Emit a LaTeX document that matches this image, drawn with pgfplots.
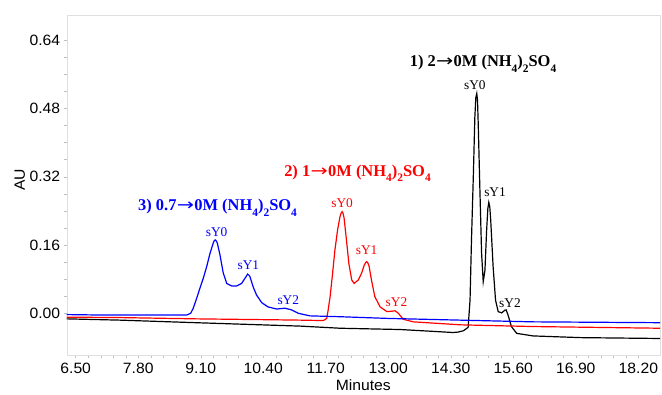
\documentclass[border=0pt]{standalone}
\usepackage{fontspec}
\setmainfont{Liberation Sans}[FakeStretch=1.05]
\newfontfamily\serif{Liberation Serif}
\newfontfamily\arrfont{DejaVu Sans}
\usepackage{pgfplots}
\pgfplotsset{compat=1.18}
\newcommand{\sub}[1]{\raisebox{-0.36em}{\fontsize{11.5}{12}\selectfont #1}}
\newcommand{\arr}{\kern0.02em\scalebox{1.25}[1.0]{\arrfont\mdseries →}\kern0.02em}
\newcommand{\ttl}{\serif\bfseries\fontsize{16.5}{18}\selectfont}
\newcommand{\pk}{\serif\fontsize{13.4}{14}\selectfont}

\begin{document}
\begin{tikzpicture}
\useasboundingbox (-66.7bp,-40bp) rectangle (595.3bp,355bp);
\begin{axis}[
  scale only axis, width=593.3bp, height=340bp,
  xmin=6.313, xmax=18.65, ymin=-0.0977, ymax=0.699,
  xtick={6.5,7.8,9.1,10.4,11.7,13,14.3,15.6,16.9,18.2},
  ytick={0,0.16,0.32,0.48,0.64},
  minor x tick num=4, minor y tick num=3,
  tick align=outside, major tick length=3bp, minor tick length=3bp,
  every tick/.style={black!25},
  axis line style={black!12},
  xtick pos=bottom, ytick pos=left,
  /pgf/number format/.cd, fixed, fixed zerofill, precision=2, assume math mode=true,
  /pgfplots/.cd,
  tick label style={font=\fontsize{15}{17}\selectfont},
  xticklabel style={yshift=-2bp},
  label style={font=\fontsize{15}{17}\selectfont},
  xlabel={Minutes}, ylabel={AU},
  xlabel style={at={(axis description cs:0.5,-0.09)}, anchor=center},
  ylabel style={at={(axis description cs:-0.079,0.515)}, anchor=center},
  every axis plot/.append style={line width=1.2bp},
  clip=true,
]
\addplot[black] table {
6.313 -0.013
7.42 -0.016
9.00 -0.022
11.17 -0.030
12.00 -0.035
13.25 -0.038
14.35 -0.045
14.45 -0.044
14.56 -0.041
14.66 -0.033
14.70 0.031
14.73 0.172
14.77 0.328
14.80 0.460
14.82 0.505
14.84 0.515
14.855 0.500
14.87 0.445
14.905 0.289
14.94 0.141
14.974 0.074
15.01 0.101
15.045 0.195
15.07 0.245
15.09 0.260
15.11 0.250
15.13 0.218
15.18 0.109
15.23 0.031
15.285 0.004
15.36 0.001
15.42 0.007
15.45 0.008
15.49 -0.004
15.56 -0.031
15.67 -0.047
16.01 -0.053
17.00 -0.057
18.65 -0.059
};
\addplot[red] table {
6.313 -0.009
7.42 -0.010
9.00 -0.013
10.50 -0.015
11.17 -0.016
11.65 -0.017
11.72 -0.012
11.75 0.008
11.79 0.039
11.835 0.086
11.89 0.148
11.945 0.195
11.995 0.226
12.02 0.235
12.04 0.238
12.06 0.234
12.08 0.224
12.13 0.172
12.18 0.117
12.24 0.078
12.29 0.070
12.375 0.078
12.445 0.094
12.50 0.113
12.53 0.119
12.55 0.121
12.57 0.119
12.60 0.111
12.65 0.078
12.72 0.039
12.83 0.015
12.97 0.004
13.08 0.005
13.14 0.006
13.21 0.000
13.31 -0.014
13.52 -0.020
14.50 -0.027
16.00 -0.031
18.65 -0.035
};
\addplot[blue] table {
6.313 -0.003
7.00 -0.004
7.42 -0.004
8.20 -0.004
8.81 -0.004
8.89 0.000
8.945 0.012
9.015 0.035
9.084 0.059
9.153 0.082
9.223 0.109
9.292 0.140
9.361 0.165
9.38 0.170
9.402 0.172
9.42 0.170
9.444 0.165
9.50 0.137
9.569 0.094
9.64 0.070
9.743 0.064
9.847 0.064
9.95 0.070
10.02 0.082
10.076 0.092
10.12 0.087
10.19 0.062
10.26 0.043
10.367 0.025
10.50 0.015
10.68 0.010
10.85 0.012
10.99 0.008
11.13 0.000
11.37 -0.006
12.00 -0.008
13.00 -0.012
14.49 -0.016
16.00 -0.020
18.65 -0.022
};
% series titles
\node[text=black, font=\ttl] at (axis cs:14.97,0.584) {1) 2\arr0M (NH\sub{4})\sub{2}SO\sub{4}};
\node[text=red, font=\ttl] at (axis cs:12.36,0.328) {2) 1\arr0M (NH\sub{4})\sub{2}SO\sub{4}};
\node[text=blue, font=\ttl] at (axis cs:9.45,0.247) {3) 0.7\arr0M (NH\sub{4})\sub{2}SO\sub{4}};
% peak labels
\node[text=black, font=\pk] at (axis cs:14.80,0.535) {sY0};
\node[text=black, font=\pk] at (axis cs:15.22,0.285) {sY1};
\node[text=black, font=\pk] at (axis cs:15.53,0.023) {sY2};
\node[text=red, font=\pk] at (axis cs:12.04,0.259) {sY0};
\node[text=red, font=\pk] at (axis cs:12.55,0.148) {sY1};
\node[text=red, font=\pk] at (axis cs:13.17,0.027) {sY2};
\node[text=blue, font=\pk] at (axis cs:9.43,0.191) {sY0};
\node[text=blue, font=\pk] at (axis cs:10.09,0.113) {sY1};
\node[text=blue, font=\pk] at (axis cs:10.92,0.031) {sY2};
\end{axis}
\end{tikzpicture}
\end{document}
